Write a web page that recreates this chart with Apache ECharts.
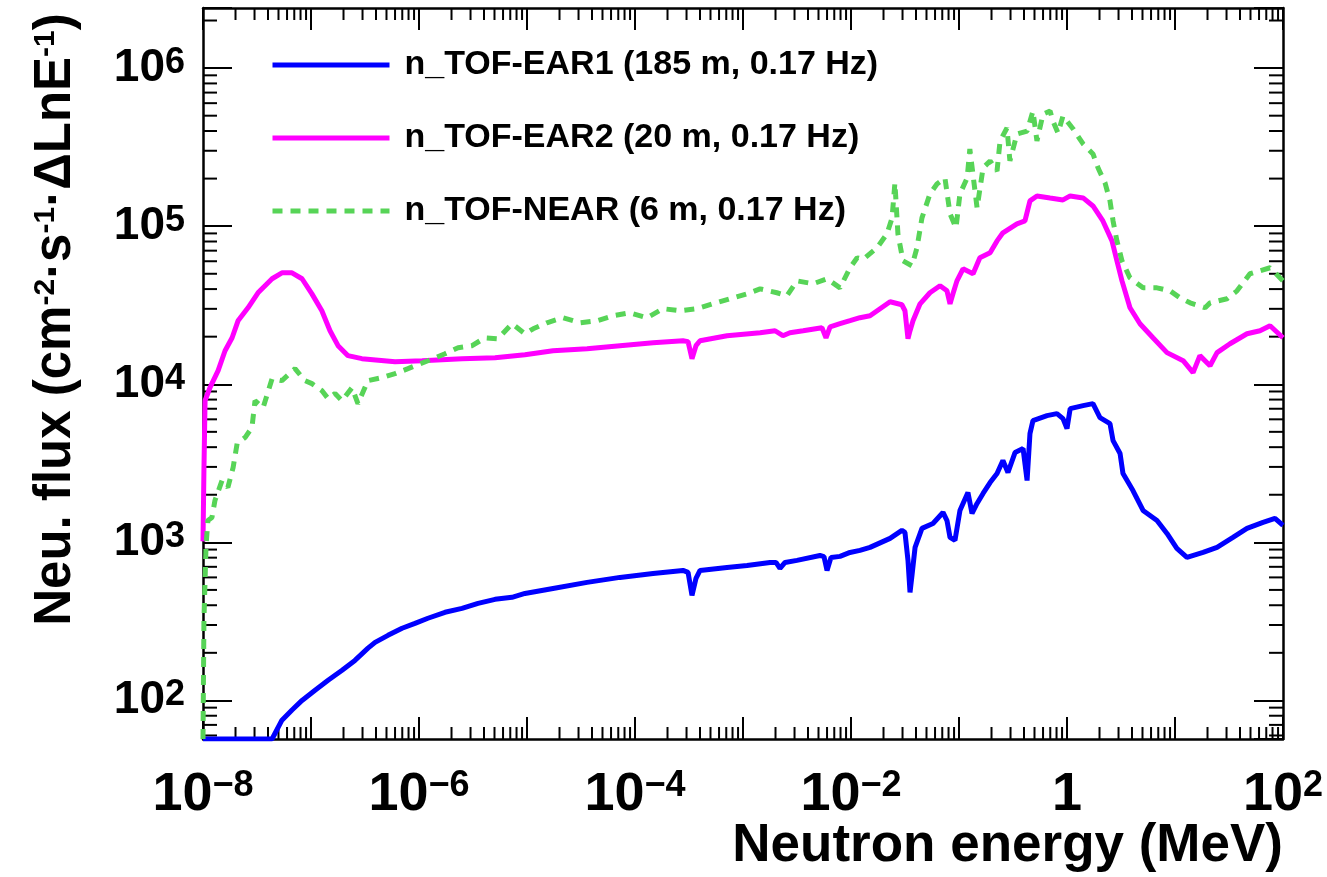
<!DOCTYPE html>
<html lang="en">
<head>
<meta charset="UTF-8">
<title>n_TOF neutron flux</title>
<script src="https://cdn.jsdelivr.net/npm/echarts@6.0.0/dist/echarts.min.js"></script>
<style>
  html, body { margin: 0; padding: 0; background: #fff; }
  #main { width: 1327px; height: 877px; }
</style>
</head>
<body>
<div id="main"></div>
<script>
// n_TOF-EAR1 (185 m)
var ear1Energy = [1.0e-8, 4.36e-8, 4.65e-8, 5.38e-8, 6.67e-8, 8.26e-8, 1.09e-7, 1.44e-7, 1.94e-7, 2.55e-7,
  3.37e-7, 3.92e-7, 5.16e-7, 6.97e-7, 9.18e-7, 1.21e-6, 1.74e-6, 2.50e-6, 3.52e-6, 5.06e-6,
  7.26e-6, 9.57e-6, 1.74e-5, 3.60e-5, 7.26e-5, 1.47e-4, 2.78e-4, 3.10e-4, 3.37e-4, 3.67e-4,
  4.00e-4, 7.11e-4, 1.09e-3, 1.78e-3, 2.02e-3, 2.20e-3, 2.45e-3, 3.16e-3, 5.16e-3, 5.62e-3,
  6.00e-3, 6.53e-3, 7.91e-3, 9.79e-3, 1.21e-2, 1.50e-2, 2.30e-2, 2.96e-2, 3.16e-2, 3.37e-2,
  3.52e-2, 3.67e-2, 3.92e-2, 4.54e-2, 5.74e-2, 7.11e-2, 7.74e-2, 8.26e-2, 9.18e-2, 0.102,
  0.121, 0.132, 0.147, 0.167, 0.194, 0.225, 0.255, 0.284, 0.330, 0.392,
  0.427, 0.454, 0.484, 0.653, 0.807, 0.918, 1.0, 1.07, 1.41, 1.74,
  2.02, 2.50, 2.67, 3.10, 3.30, 4.08, 5.06, 6.81, 8.43, 10.4,
  12.9, 18.2, 24.5, 34.4, 46.4, 65.3, 84.3, 100];
var ear1Flux = [57, 57, 62, 75, 87, 100, 116, 134, 155, 179,
  214, 233, 258, 286, 307, 331, 361, 382, 411, 436,
  449, 475, 511, 558, 600, 636, 664, 645, 462, 591,
  664, 693, 714, 746, 746, 684, 746, 769, 826, 813,
  664, 803, 815, 863, 889, 929, 1059, 1189, 1155, 769,
  482, 618, 929, 1225, 1315, 1545, 1374, 1074, 1028, 1589,
  2065, 1523, 1762, 2038, 2389, 2723, 3291, 2765, 3698, 3917,
  2460, 4875, 5888, 6333, 6521, 6067, 5248, 7015, 7328, 7540,
  6148, 5636, 4401, 3645, 2723, 2126, 1591, 1374, 1138, 915,
  803, 863, 929, 1074, 1225, 1337, 1416, 1279];

// n_TOF-EAR2 (20 m)
var ear2Energy = [1.0e-8, 1.02e-8, 1.045e-8, 1.16e-8, 1.38e-8, 1.60e-8, 1.86e-8, 2.11e-8, 2.61e-8, 3.23e-8,
  4.36e-8, 5.38e-8, 6.67e-8, 8.26e-8, 1.02e-7, 1.26e-7, 1.50e-7, 1.78e-7, 2.20e-7, 2.96e-7,
  6.00e-7, 1.07e-6, 2.50e-6, 5.06e-6, 9.57e-6, 1.74e-5, 3.60e-5, 7.26e-5, 1.47e-4, 2.78e-4,
  3.10e-4, 3.37e-4, 3.67e-4, 4.00e-4, 7.11e-4, 1.44e-3, 1.98e-3, 2.34e-3, 2.72e-3, 3.60e-3,
  5.38e-3, 5.87e-3, 6.40e-3, 7.91e-3, 9.79e-3, 1.21e-2, 1.50e-2, 2.30e-2, 2.96e-2, 3.16e-2,
  3.37e-2, 3.52e-2, 3.75e-2, 4.36e-2, 5.38e-2, 6.67e-2, 7.74e-2, 8.26e-2, 8.79e-2, 9.57e-2,
  0.109, 0.135, 0.156, 0.194, 0.225, 0.255, 0.344, 0.408, 0.454, 0.527,
  0.697, 0.918, 1.07, 1.41, 1.74, 2.15, 2.61, 2.90, 3.23, 3.83,
  4.74, 6.25, 8.43, 11.9, 14.7, 17.0, 21.1, 24.5, 32.3, 46.4,
  61.2, 75.9, 100];
var ear2Flux = [1014, 2846, 7870, 9520, 12190, 16300, 19680, 25200, 30460, 37900,
  46500, 50700, 50700, 46500, 37300, 29200, 21800, 17540, 15170, 14520,
  13900, 14090, 14520, 14720, 15380, 16300, 16790, 17540, 18320, 18840,
  18600, 14520, 17540, 18840, 20280, 21180, 21800, 20280, 21180, 21800,
  22800, 19680, 23100, 24150, 25230, 26360, 27100, 33270, 31840, 29170,
  19410, 21800, 25230, 32280, 37930, 41980, 38990, 32280, 37330, 45080,
  53700, 50000, 63100, 67800, 80700, 90800, 103500, 107900, 144500, 155400,
  150900, 146600, 155400, 150900, 134300, 107900, 80700, 60400, 45080, 30480,
  24150, 19680, 15850, 14090, 11840, 15170, 13100, 15850, 18040, 20870,
  21800, 23440, 19680];

// n_TOF-NEAR (6 m)
var nearEnergy = [1.0e-8, 1.02e-8, 1.067e-8, 1.11e-8, 1.21e-8, 1.29e-8, 1.50e-8, 1.70e-8, 1.90e-8, 2.07e-8,
  2.45e-8, 2.84e-8, 3.03e-8, 3.60e-8, 4.36e-8, 5.38e-8, 7.11e-8, 8.79e-8, 1.02e-7, 1.26e-7,
  1.44e-7, 1.67e-7, 1.94e-7, 2.40e-7, 2.72e-7, 3.37e-7, 4.54e-7, 6.00e-7, 7.91e-7, 1.21e-6,
  1.74e-6, 2.30e-6, 3.10e-6, 4.08e-6, 5.38e-6, 7.26e-6, 9.57e-6, 1.14e-5, 1.53e-5, 2.15e-5,
  3.10e-5, 4.45e-5, 6.25e-5, 8.99e-5, 1.29e-4, 1.82e-4, 2.61e-4, 3.75e-4, 5.27e-4, 7.59e-4,
  1.09e-3, 1.44e-3, 2.06e-3, 2.55e-3, 3.16e-3, 4.45e-3, 6.00e-3, 7.91e-3, 9.79e-3, 1.14e-2,
  1.29e-2, 1.74e-2, 2.15e-2, 2.40e-2, 2.55e-2, 2.72e-2, 3.03e-2, 3.67e-2, 4.08e-2, 4.54e-2,
  5.38e-2, 6.25e-2, 7.41e-2, 8.26e-2, 9.38e-2, 0.102, 0.119, 0.126, 0.147, 0.167,
  0.194, 0.225, 0.240, 0.278, 0.296, 0.344, 0.427, 0.484, 0.527, 0.600,
  0.697, 0.741, 0.826, 0.918, 1.14, 1.41, 1.74, 1.94, 2.25, 2.50,
  2.67, 2.90, 3.23, 3.83, 5.06, 6.81, 9.00, 11.1, 13.8, 19.0,
  21.1, 30.3, 37.5, 49.4, 61.2, 75.9, 100];
var nearFlux = [57, 321, 955, 1374, 1435, 1840, 2460, 2223, 2972, 4217,
  4600, 5321, 7870, 7110, 10840, 10540, 12560, 10540, 10090, 9120,
  8110, 8730, 7870, 9520, 7540, 10540, 11010, 11670, 12560, 14090,
  15600, 17020, 17540, 19680, 19410, 24150, 20870, 22440, 24490, 26360,
  24490, 25230, 27100, 28310, 26360, 30060, 29170, 30060, 32280, 34750,
  37330, 40140, 37930, 36300, 45080, 43220, 46450, 40740, 54580, 63100,
  61600, 72950, 89300, 112800, 187800, 89300, 60400, 56100, 72950, 112800,
  159900, 184900, 201800, 119600, 97500, 159900, 201800, 307800, 130600, 233400,
  258800, 223400, 345900, 418000, 258800, 382800, 399900, 535000, 345900, 511700,
  535000, 462400, 388200, 497700, 412100, 331100, 286400, 233400, 187800, 144500,
  107900, 80700, 60400, 47100, 40740, 40740, 38990, 35240, 32730, 30480,
  32730, 34750, 38990, 50000, 52240, 54580, 45080];

var seriesNames = ['n_TOF-EAR1 (185 m, 0.17 Hz)', 'n_TOF-EAR2 (20 m, 0.17 Hz)', 'n_TOF-NEAR (6 m, 0.17 Hz)'];
var xRange = [1e-8, 100];
var yRange = [57, 2.4e6];

// minor ticks at 2..9 x 10^n, like ROOT log axes
var xMinorTicks = [];
for (var d = -8; d < 2; d++) {
    for (var k = 2; k <= 9; k++) xMinorTicks.push(k * Math.pow(10, d));
}
var yMinorTicks = [];
for (var d2 = 1; d2 <= 6; d2++) {
    for (var k2 = 2; k2 <= 9; k2++) {
        var t = k2 * Math.pow(10, d2);
        if (t > yRange[0] && t < yRange[1]) yMinorTicks.push(t);
    }
}

function pairs(xs, ys) {
    return xs.map(function (x, i) { return [x, ys[i]]; });
}

// 10^n labels, only at whole decades
function powLabel(v, every) {
    var lg = Math.log10(v);
    var e = Math.round(lg);
    if (Math.abs(lg - e) > 0.02) return '';
    if (e % every !== 0) return '';
    if (e === 0) return '{b|1}';
    return '{b|10}{s|' + (e < 0 ? '\u2212' + (-e) : e) + '}';
}

var fontMain = 'Liberation Sans, Arial, sans-serif';
var fontNarrow = 'Liberation Sans Narrow, Liberation Sans, sans-serif';
var black = '#000';

function tickStyle(len) {
    return { show: true, inside: true, length: len, lineStyle: { color: black, width: 2 } };
}

function tickLine(x1, y1, x2, y2) {
    return { type: 'line', shape: { x1: x1, y1: y1, x2: x2, y2: y2 }, style: { stroke: black, lineWidth: 2 } };
}

// minor ticks on bottom + top
function renderXMinor(params, api) {
    var cs = params.coordSys;
    var x = api.coord([api.value(0), yRange[0]])[0];
    var bottom = cs.y + cs.height;
    return { type: 'group', children: [
        tickLine(x, bottom, x, bottom - 12),
        tickLine(x, cs.y, x, cs.y + 12)
    ] };
}

// minor ticks on left + right
function renderYMinor(params, api) {
    var cs = params.coordSys;
    var y = api.coord([xRange[0], api.value(1)])[1];
    var right = cs.x + cs.width;
    return { type: 'group', children: [
        tickLine(cs.x, y, cs.x + 14, y),
        tickLine(right, y, right - 14, y)
    ] };
}

var chart = echarts.init(document.getElementById('main'));

chart.setOption({
    animation: false,
    backgroundColor: '#fff',
    grid: { left: 203, right: 44, top: 8, bottom: 138, containLabel: false, outerBoundsMode: 'none' },
    legend: {
        orient: 'vertical',
        left: 265,
        top: 43,
        itemWidth: 117,
        itemHeight: 34,
        itemGap: 39,
        selectedMode: false,
        lineStyle: { width: 5 },
        itemStyle: { opacity: 0 },
        textStyle: {
            fontSize: 34, fontWeight: 'bold', fontFamily: fontMain, color: black,
            lineHeight: 34, padding: [0, 0, 0, 10]
        },
        data: seriesNames
    },
    xAxis: [{
        type: 'log', position: 'bottom', min: xRange[0], max: xRange[1], interval: 1, splitNumber: 10,
        axisLine: { onZero: false, lineStyle: { color: black, width: 2.5 } },
        axisTick: tickStyle(22), minorTick: { show: false },
        splitLine: { show: false },
        axisLabel: {
            margin: 29,
            showMinLabel: true, showMaxLabel: true,
            formatter: function (v) { return powLabel(v, 2); },
            rich: {
                b: { fontSize: 54, fontWeight: 'bold', fontFamily: fontNarrow, color: black, lineHeight: 54, verticalAlign: 'bottom' },
                s: { fontSize: 36, fontWeight: 'bold', fontFamily: fontNarrow, color: black, lineHeight: 22, verticalAlign: 'top' }
            }
        },
        name: 'Neutron energy (MeV)',
        nameLocation: 'end',
        nameGap: 0,
        nameMoveOverlap: false,
        nameTextStyle: {
            fontSize: 53, fontWeight: 'bold', fontFamily: fontMain, color: black,
            align: 'right', verticalAlign: 'top', lineHeight: 55, padding: [80, 0, 0, 0]
        }
    }, {
        type: 'log', position: 'top', min: xRange[0], max: xRange[1], interval: 1, splitNumber: 10,
        axisLine: { onZero: false, lineStyle: { color: black, width: 2.5 } },
        axisTick: tickStyle(22), minorTick: { show: false },
        splitLine: { show: false },
        axisLabel: { show: false }
    }],
    yAxis: [{
        type: 'log', position: 'left', min: yRange[0], max: yRange[1],
        axisLine: { onZero: false, lineStyle: { color: black, width: 2.5 } },
        axisTick: tickStyle(29), minorTick: { show: false },
        splitLine: { show: false },
        axisLabel: {
            margin: 18,
            formatter: function (v) { return powLabel(v, 1); },
            rich: {
                b: { fontSize: 46, fontWeight: 'bold', fontFamily: fontMain, color: black, lineHeight: 46, verticalAlign: 'bottom' },
                s: { fontSize: 36, fontWeight: 'bold', fontFamily: fontMain, color: black, lineHeight: 16, verticalAlign: 'top' }
            }
        },
        name: 'Neu. flux (cm{s|-2}\u00b7s{s|-1}\u00b7\u0394LnE{s|-1})',
        nameLocation: 'middle',
        nameRotate: 90,
        nameGap: 122,
        nameTextStyle: {
            fontSize: 51, fontWeight: 'bold', fontFamily: fontMain, color: black,
            lineHeight: 50, padding: [0, 0, 0, 108],
            rich: {
                s: { fontSize: 30, fontWeight: 'bold', fontFamily: fontMain, color: black, lineHeight: 18, verticalAlign: 'top' }
            }
        }
    }, {
        type: 'log', position: 'right', min: yRange[0], max: yRange[1],
        axisLine: { onZero: false, lineStyle: { color: black, width: 2.5 } },
        axisTick: tickStyle(29), minorTick: { show: false },
        splitLine: { show: false },
        axisLabel: { show: false }
    }],
    series: [{
        name: seriesNames[0], type: 'line', xAxisIndex: 0, yAxisIndex: 0,
        data: pairs(ear1Energy, ear1Flux),
        symbol: 'none', showSymbol: false, color: '#0000ff',
        lineStyle: { width: 5, color: '#0000ff' }
    }, {
        name: seriesNames[1], type: 'line', xAxisIndex: 0, yAxisIndex: 0,
        data: pairs(ear2Energy, ear2Flux),
        symbol: 'none', showSymbol: false, color: '#ff00ff',
        lineStyle: { width: 5, color: '#ff00ff' }
    }, {
        name: seriesNames[2], type: 'line', xAxisIndex: 0, yAxisIndex: 0,
        data: pairs(nearEnergy, nearFlux),
        symbol: 'none', showSymbol: false, color: '#57d457',
        lineStyle: { width: 5, color: '#57d457', type: [10, 8] }
    }, {
        name: 'xMinor', type: 'custom', xAxisIndex: 0, yAxisIndex: 0, silent: true, clip: false,
        data: xMinorTicks.map(function (v) { return [v, yRange[0]]; }),
        renderItem: renderXMinor
    }, {
        name: 'yMinor', type: 'custom', xAxisIndex: 0, yAxisIndex: 0, silent: true, clip: false,
        data: yMinorTicks.map(function (v) { return [xRange[0], v]; }),
        renderItem: renderYMinor
    }]
});
</script>
</body>
</html>
